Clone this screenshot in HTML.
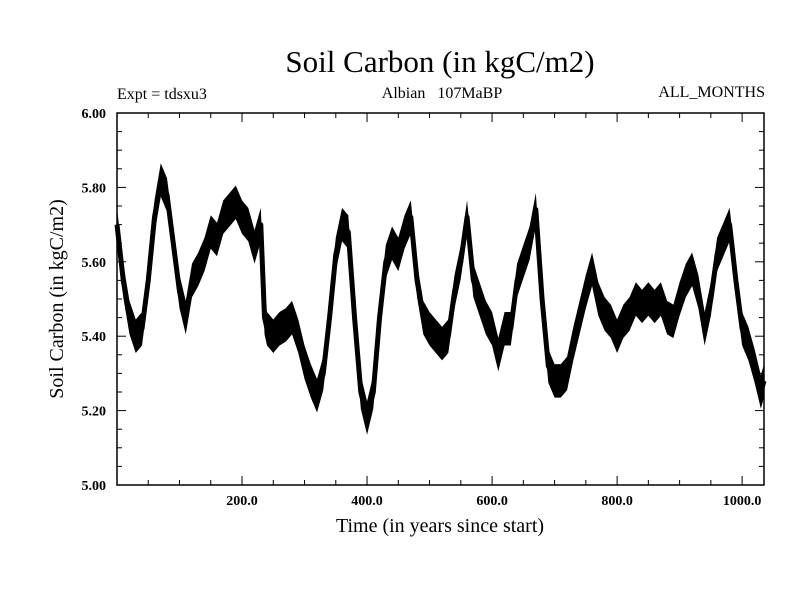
<!DOCTYPE html>
<html><head><meta charset="utf-8"><style>
body{margin:0;background:#fff}
svg text{font-family:"Liberation Serif",serif;fill:#000}
</style></head><body>
<svg id="c" width="800" height="600">
<rect width="800" height="600" fill="#fff"/>
<text x="440" y="72" font-size="31" text-anchor="middle">Soil Carbon (in kgC/m2)</text>
<text x="117" y="99" font-size="16">Expt = tdsxu3</text>
<text x="442" y="98" font-size="16" text-anchor="middle">Albian&#160;&#160;&#160;107MaBP</text>
<text x="765" y="97" font-size="16" text-anchor="end">ALL_MONTHS</text>
<text x="440" y="532" font-size="20" text-anchor="middle">Time (in years since start)</text>
<text transform="translate(63,299) rotate(-90)" font-size="20" text-anchor="middle">Soil Carbon (in kgC/m2)</text>
<g id="axes"></g>
<g id="marks"></g>
<rect x="117" y="113" width="647" height="372" fill="none" stroke="#000" stroke-width="1.5"/>
</svg>
<script>
const years=[0,10,20,30,40,50,60,70,80,90,100,110,120,130,140,150,160,170,180,190,200,210,220,230,236,240,250,260,270,280,290,300,310,320,330,340,350,360,370,380,390,400,410,420,430,440,450,460,470,480,490,500,510,520,530,540,550,560,570,580,590,600,610,620,630,640,650,660,670,680,690,700,710,720,730,740,750,760,770,780,790,800,810,820,830,840,850,860,870,880,890,900,910,920,930,940,950,960,970,980,990,1000,1010,1020,1030,1035];
const carbon=[5.70,5.55,5.45,5.40,5.42,5.55,5.72,5.82,5.78,5.65,5.52,5.45,5.55,5.58,5.62,5.68,5.66,5.72,5.74,5.76,5.72,5.70,5.64,5.70,5.45,5.42,5.40,5.42,5.43,5.45,5.40,5.33,5.28,5.24,5.30,5.45,5.62,5.70,5.68,5.45,5.25,5.18,5.25,5.45,5.60,5.65,5.62,5.68,5.72,5.55,5.45,5.42,5.40,5.38,5.40,5.52,5.60,5.72,5.55,5.50,5.45,5.42,5.35,5.42,5.42,5.55,5.60,5.65,5.74,5.50,5.32,5.28,5.28,5.30,5.38,5.45,5.52,5.58,5.50,5.46,5.44,5.40,5.44,5.46,5.50,5.48,5.50,5.48,5.50,5.45,5.44,5.50,5.55,5.58,5.52,5.42,5.50,5.62,5.66,5.70,5.55,5.42,5.38,5.32,5.25,5.28];
const spread=0.045;
const xTicks=[200,400,600,800,1000];
const xTickLabels=["200.0","400.0","600.0","800.0","1000.0"];
const yTicks=[5.0,5.2,5.4,5.6,5.8,6.0];
const yTickLabels=["5.00","5.20","5.40","5.60","5.80","6.00"];
const X0=117,X1=764,Y0=485,Y1=113,XMAX=1035,YMIN=5,YMAX=6;
const sx=v=>X0+(v/XMAX)*(X1-X0);
const sy=v=>Y0-(v-YMIN)/(YMAX-YMIN)*(Y0-Y1);
const NS="http://www.w3.org/2000/svg";
const ax=document.getElementById('axes'),mk=document.getElementById('marks');
function ln(g,x1,y1,x2,y2){const l=document.createElementNS(NS,'line');l.setAttribute('x1',x1);l.setAttribute('y1',y1);l.setAttribute('x2',x2);l.setAttribute('y2',y2);l.setAttribute('stroke','#000');l.setAttribute('stroke-width','1');g.appendChild(l);return l;}
for(let v=50;v<XMAX;v+=50){const maj=v%200===0;const len=maj?9:5;
 const a=ln(ax,sx(v),Y0,sx(v),Y0-len);
 const b=ln(ax,sx(v),Y1,sx(v),Y1+len);}
for(let i=0;i<=20;i++){const v=YMIN+i*0.05;const maj=i%4===0;const len=maj?9:5;
 const a=ln(ax,X0,sy(v),X0+len,sy(v));
 const b=ln(ax,X1,sy(v),X1-len,sy(v));}
xTicks.forEach((v,i)=>{const t=document.createElementNS(NS,'text');t.setAttribute('x',sx(v));t.setAttribute('y',505);t.setAttribute('font-size','14');t.setAttribute('font-weight','bold');t.setAttribute('text-anchor','middle');t.textContent=xTickLabels[i];
 
 ax.appendChild(t);});
yTicks.forEach((v,i)=>{const t=document.createElementNS(NS,'text');t.setAttribute('x',106);t.setAttribute('y',sy(v)+5);t.setAttribute('font-size','14');t.setAttribute('font-weight','bold');t.setAttribute('text-anchor','end');t.textContent=yTickLabels[i];
 
 ax.appendChild(t);});
let up=[],lo=[];
years.forEach((y,i)=>{up.push(sx(y)+','+sy(carbon[i]+spread));lo.unshift(sx(y)+','+sy(carbon[i]-spread));});
const band=document.createElementNS(NS,'polygon');band.setAttribute('points',up.concat(lo).join(' '));band.setAttribute('fill','#000');


mk.appendChild(band);
const pl=document.createElementNS(NS,'polyline');pl.setAttribute('points',years.map((y,i)=>sx(y)+','+sy(carbon[i])).join(' '));pl.setAttribute('fill','none');pl.setAttribute('stroke','#000');pl.setAttribute('stroke-width','5');pl.setAttribute('stroke-linejoin','round');


mk.appendChild(pl);
</script>
</body></html>
